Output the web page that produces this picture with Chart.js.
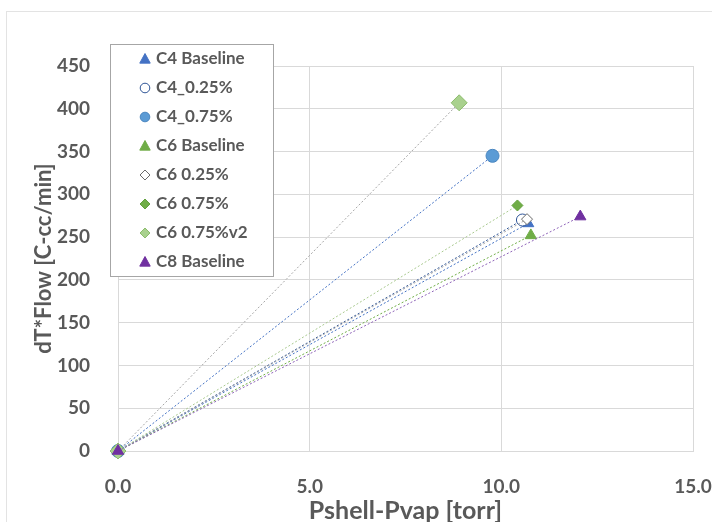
<!doctype html>
<html lang="en">

<head>
  <meta charset="utf-8">
  <title>dT*Flow vs Pshell-Pvap</title>
  <script src="https://cdn.jsdelivr.net/npm/chart.js"></script>
  <style>
    html, body { margin: 0; padding: 0; background: #fff; }
    #wrap { position: relative; width: 712px; height: 522px; overflow: hidden; }
  </style>
</head>

<body>
  <div id="wrap">
    <canvas id="chart" width="712" height="522"></canvas>
  </div>

  <script>
    // === DATA ===
    const seriesNames = ["C4 Baseline", "C4_0.25%", "C4_0.75%", "C6 Baseline",
                         "C6 0.25%", "C6 0.75%", "C6 0.75%v2", "C8 Baseline"];
    // each series runs from the origin to one measured point
    const startX = [0, 0, 0, 0, 0, 0, 0, 0];
    const startY = [0, 0, 0, 0, 0, 0, 0, 0];
    const endX = [10.7, 10.55, 9.77, 10.77, 10.67, 10.42, 8.9, 12.06];
    const endY = [266, 270, 345, 252, 271, 287, 407, 274];
    const xTicks = [0, 5, 10, 15];
    const yTicks = [0, 50, 100, 150, 200, 250, 300, 350, 400, 450];

    // === STYLES (marker + line per series) ===
    const styles = [
      { shape: "triangle", r: 6.5, fill: "#4472c4", stroke: "#4472c4", line: "#4472c4" },
      { shape: "circle",   r: 6,   fill: "#ffffff", stroke: "#2f5597", line: "#2f5597" },
      { shape: "circle",   r: 6.5, fill: "#5b9bd5", stroke: "#4a86c0", line: "#4472c4" },
      { shape: "triangle", r: 6.5, fill: "#70ad47", stroke: "#70ad47", line: "#70ad47" },
      { shape: "rectRot",  r: 5.5, fill: "#ffffff", stroke: "#6b6b6b", line: "#a5a5a5" },
      { shape: "rectRot",  r: 5.5, fill: "#70ad47", stroke: "#62a03c", line: "#a9c98f" },
      { shape: "rectRot",  r: 8,   fill: "#a9d18e", stroke: "#8cbc6c", line: "#a5a5a5" },
      { shape: "triangle", r: 6.5, fill: "#7030a0", stroke: "#7030a0", line: "#8e63b8" }
    ];

    const FONT = "Lato, 'Open Sans', sans-serif";
    const TEXT = "#595959";

    const datasets = seriesNames.map((name, i) => ({
      label: name,
      data: [{ x: startX[i], y: startY[i] }, { x: endX[i], y: endY[i] }],
      showLine: true,
      clip: false,
      borderColor: styles[i].line,
      borderWidth: 1,
      borderDash: [2, 2],
      pointStyle: styles[i].shape,
      pointRadius: styles[i].r,
      pointHoverRadius: styles[i].r,
      pointBackgroundColor: styles[i].fill,
      pointBorderColor: styles[i].stroke,
      pointBorderWidth: 1,
      order: seriesNames.length - i   // later series drawn on top, as in the source
    }));

    // === HELPER: draw a legend marker ===
    function drawMarker(ctx, st, x, y) {
      ctx.save();
      ctx.fillStyle = st.fill;
      ctx.strokeStyle = st.stroke;
      ctx.lineWidth = 1;
      ctx.beginPath();
      const r = st.shape === "rectRot" ? 5 : 5.5;
      if (st.shape === "triangle") {
        ctx.moveTo(x, y - r);
        ctx.lineTo(x + r * 0.95, y + r * 0.75);
        ctx.lineTo(x - r * 0.95, y + r * 0.75);
        ctx.closePath();
      } else if (st.shape === "circle") {
        ctx.arc(x, y, 4.8, 0, Math.PI * 2);
      } else {
        ctx.moveTo(x, y - r);
        ctx.lineTo(x + r, y);
        ctx.lineTo(x, y + r);
        ctx.lineTo(x - r, y);
        ctx.closePath();
      }
      ctx.fill();
      ctx.stroke();
      ctx.restore();
    }

    // === PLUGIN: outer frame + boxed legend inside the plot ===
    const decorPlugin = {
      id: "decor",
      beforeDraw(chart) {
        const ctx = chart.ctx;
        ctx.save();
        ctx.strokeStyle = "#e3e3e3";
        ctx.lineWidth = 1;
        ctx.strokeRect(6.5, 11.5, 800, 600);
        ctx.restore();
      },
      afterDraw(chart) {
        const ctx = chart.ctx;
        const bx = 110.5, by = 44.5, bw = 163, bh = 232;
        ctx.save();
        ctx.fillStyle = "#ffffff";
        ctx.fillRect(bx, by, bw, bh);
        ctx.strokeStyle = "#a6a6a6";
        ctx.lineWidth = 1;
        ctx.strokeRect(bx, by, bw, bh);
        ctx.font = "bold 17px " + FONT;
        ctx.fillStyle = TEXT;
        ctx.textBaseline = "middle";
        seriesNames.forEach((name, i) => {
          const y = 59 + i * 29;
          drawMarker(ctx, styles[i], 145, y);
          ctx.fillStyle = TEXT;
          ctx.fillText(name, 156, y);
        });
        ctx.restore();
      }
    };

    new Chart(document.getElementById("chart"), {
      type: "scatter",
      data: { datasets: datasets },
      options: {
        responsive: false,
        animation: false,
        layout: { padding: { top: 66, right: 19, left: 0, bottom: 0 } },
        plugins: {
          legend: { display: false },
          tooltip: { enabled: false }
        },
        scales: {
          x: {
            type: "linear",
            min: 0,
            max: 15,
            afterBuildTicks: axis => { axis.ticks = xTicks.map(v => ({ value: v })); },
            afterFit: axis => {
              axis.height = 71;
              // let the last tick label hang past the plot, like the source
              axis.paddingLeft = 0;
              axis.paddingRight = 0;
            },
            ticks: {
              padding: 24,
              color: TEXT,
              font: { family: FONT, size: 19, weight: "bold" },
              callback: v => Number(v).toFixed(1)
            },
            grid: { color: "#d9d9d9", drawTicks: false },
            border: { display: true, color: "#d9d9d9" },
            title: {
              display: true,
              text: "Pshell-Pvap [torr]",
              color: TEXT,
              font: { family: FONT, size: 25, weight: "bold" },
              padding: { top: 0, bottom: -4 }
            }
          },
          y: {
            type: "linear",
            min: 0,
            max: 450,
            afterBuildTicks: axis => { axis.ticks = yTicks.map(v => ({ value: v })); },
            afterFit: axis => { axis.width = 118; },
            ticks: {
              padding: 28,
              color: TEXT,
              font: { family: FONT, size: 19, weight: "bold" }
            },
            grid: { color: "#d9d9d9", drawTicks: false },
            border: { display: true, color: "#d9d9d9" },
            title: {
              display: true,
              text: "dT*Flow [C-cc/min]",
              color: TEXT,
              font: { family: FONT, size: 22, weight: "bold" },
              padding: { top: 31, bottom: 0 }
            }
          }
        }
      },
      plugins: [decorPlugin]
    });
  </script>

</body>

</html>
